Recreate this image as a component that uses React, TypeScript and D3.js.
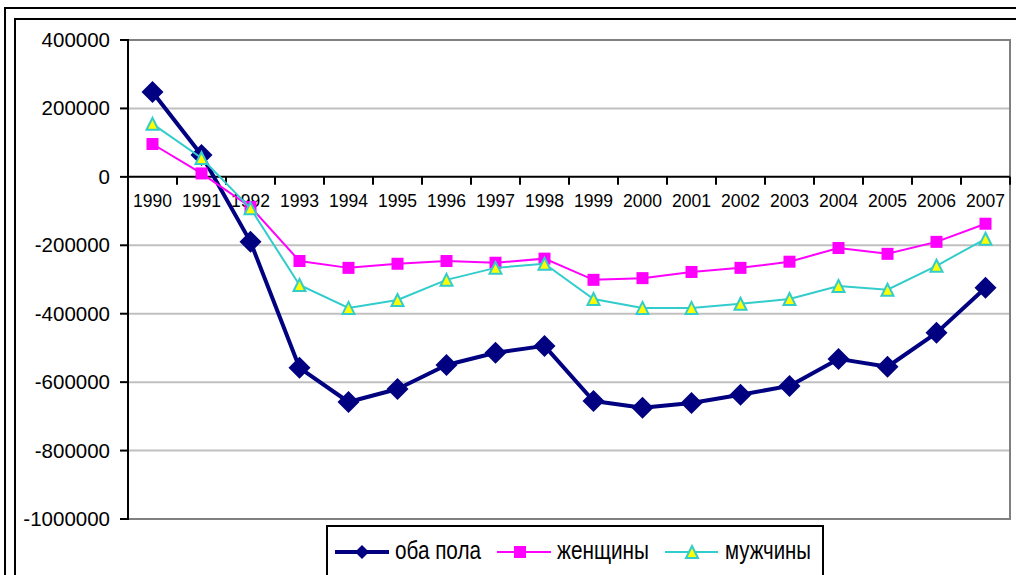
import React from "react";
import * as d3 from "d3";

const years = ["1990","1991","1992","1993","1994","1995","1996","1997","1998","1999","2000","2001","2002","2003","2004","2005","2006","2007"];
const both = [248000, 64000, -190000, -558000, -658000, -620000, -550000, -514000, -494000, -655000, -675000, -661000, -637000, -611000, -532000, -555000, -456000, -324000];
const women = [96000, 10000, -88000, -246000, -266000, -254000, -246000, -251000, -239000, -301000, -296000, -278000, -266000, -248000, -208000, -225000, -190000, -137000];
const men = [155000, 55000, -92000, -316000, -383000, -360000, -301000, -266000, -254000, -357000, -383000, -383000, -371000, -357000, -319000, -330000, -260000, -181000];
const yTicks = [400000, 200000, 0, -200000, -400000, -600000, -800000, -1000000];
const seriesNames = ["оба пола", "женщины", "мужчины"];

const W = 1016, H = 575;
const left = 128, right = 1010, top = 40, bottom = 519;

const NAVY = "#000080", MAG = "#FF00FF", CYAN = "#33CCCC", YEL = "#FFFF00";

function diamond(cx: number, cy: number, r: number) {
  return `M${cx},${cy - r}L${cx + r},${cy}L${cx},${cy + r}L${cx - r},${cy}Z`;
}
function triangle(cx: number, cy: number, s: number) {
  const h = s;
  return `M${cx},${cy - h / 2}L${cx + s / 2},${cy + h / 2}L${cx - s / 2},${cy + h / 2}Z`;
}

export default function App() {
  const x = d3.scaleBand<string>().domain(years).range([left, right]).padding(0);
  const y = d3.scaleLinear().domain([-1000000, 400000]).range([bottom, top]);
  const cx = (yr: string) => (x(yr) as number) + x.bandwidth() / 2;
  const line = d3.line<number>().x((_, i) => cx(years[i])).y((v) => y(v));
  const y0 = y(0);

  return (
    <svg width={W} height={H} style={{ position: "absolute", left: 0, top: 0, background: "#fff" }}
      fontFamily="Arial, 'Liberation Sans', sans-serif">
      <rect x={0} y={0} width={W} height={H} fill="#fff" />
      {/* outer double frame */}
      <rect x={5} y={8} width={W + 20} height={H + 20} fill="none" stroke="#000" strokeWidth={2} />
      <rect x={15} y={19} width={W + 20} height={H + 20} fill="none" stroke="#000" strokeWidth={2} />

      {/* gridlines */}
      {yTicks.filter((t) => t !== 0 && t !== 400000 && t !== -1000000).map((t) => (
        <line key={t} x1={left} x2={right} y1={y(t)} y2={y(t)} stroke="#C0C0C0" strokeWidth={2} />
      ))}
      {/* plot border */}
      <line x1={left} x2={right} y1={top} y2={top} stroke="#808080" strokeWidth={2} />
      <line x1={left} x2={right} y1={bottom} y2={bottom} stroke="#808080" strokeWidth={2} />
      <line x1={right} x2={right} y1={top - 1} y2={bottom + 1} stroke="#808080" strokeWidth={2} />

      {/* y axis */}
      <line x1={left} x2={left} y1={top - 1} y2={bottom + 1} stroke="#000" strokeWidth={2} />
      {yTicks.map((t) => (
        <g key={t}>
          <line x1={left - 8} x2={left} y1={y(t)} y2={y(t)} stroke="#000" strokeWidth={2} />
          <text x={110} y={y(t) + 7} textAnchor="end" fontSize={20.5} fill="#000">{t}</text>
        </g>
      ))}

      {/* x axis */}
      <line x1={left} x2={right} y1={y0} y2={y0} stroke="#000" strokeWidth={2} />
      {years.map((yr) => (
        <line key={"t" + yr} x1={x(yr) as number} x2={x(yr) as number} y1={y0} y2={y0 + 8} stroke="#000" strokeWidth={2} />
      ))}
      <line x1={right} x2={right} y1={y0} y2={y0 + 8} stroke="#000" strokeWidth={2} />
      {years.map((yr) => (
        <text key={"l" + yr} x={cx(yr)} y={y0 + 30} textAnchor="middle" fontSize={17.5} fill="#000">{yr}</text>
      ))}

      {/* series: both */}
      <path d={line(both) as string} fill="none" stroke={NAVY} strokeWidth={4} strokeLinejoin="round" />
      {both.map((v, i) => (
        <path key={"b" + i} d={diamond(cx(years[i]), y(v), 11)} fill={NAVY} />
      ))}
      {/* women */}
      <path d={line(women) as string} fill="none" stroke={MAG} strokeWidth={2} />
      {women.map((v, i) => (
        <rect key={"w" + i} x={cx(years[i]) - 6} y={y(v) - 6} width={12} height={12} fill={MAG} />
      ))}
      {/* men */}
      <path d={line(men) as string} fill="none" stroke={CYAN} strokeWidth={2} />
      {men.map((v, i) => (
        <path key={"m" + i} d={triangle(cx(years[i]), y(v), 12)} fill={YEL} stroke={CYAN} strokeWidth={2} />
      ))}

      {/* legend */}
      <rect x={327} y={526} width={496} height={70} fill="#fff" stroke="#000" strokeWidth={2} />
      <line x1={335} x2={389} y1={552} y2={552} stroke={NAVY} strokeWidth={4} />
      <path d={diamond(362, 552, 7)} fill={NAVY} />
      <text x={395} y={559} fontSize={25} textLength={86} lengthAdjust="spacingAndGlyphs" fill="#000">{seriesNames[0]}</text>

      <line x1={497} x2={551} y1={552} y2={552} stroke={MAG} strokeWidth={2} />
      <rect x={520 - 6} y={552 - 6} width={12} height={12} fill={MAG} />
      <text x={557} y={559} fontSize={25} textLength={92} lengthAdjust="spacingAndGlyphs" fill="#000">{seriesNames[1]}</text>

      <line x1={665} x2={718} y1={552} y2={552} stroke={CYAN} strokeWidth={2} />
      <path d={triangle(692, 552, 12)} fill={YEL} stroke={CYAN} strokeWidth={2} />
      <text x={725} y={559} fontSize={25} textLength={86} lengthAdjust="spacingAndGlyphs" fill="#000">{seriesNames[2]}</text>
    </svg>
  );
}
